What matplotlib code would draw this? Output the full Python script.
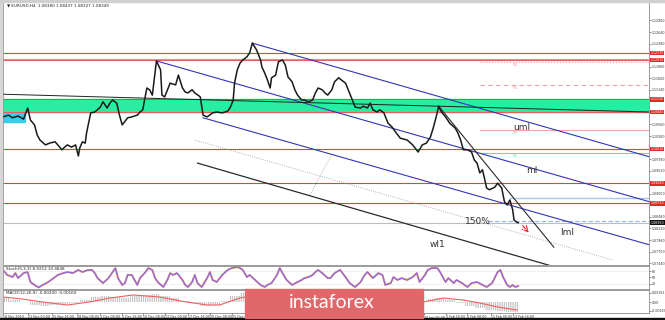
import numpy as np
from matplotlib import pyplot as plt
from matplotlib.patches import Rectangle
from matplotlib.transforms import blended_transform_factory

# EURUSD H4, bar index counted from 18 Nov 2019
price_bars = [0, 4, 7, 11, 15, 18, 20, 23, 25, 27,
              31, 34, 38, 40, 43, 45, 47, 50, 53, 55,
              56, 58, 60, 61, 64, 67, 71, 73, 76, 78,
              80, 83, 85, 87, 91, 94, 98, 100, 102, 105,
              107, 109, 112, 115, 116, 118, 122, 126, 128, 131,
              133, 135, 138, 140, 144, 146, 149, 153, 156, 160,
              164, 166, 168, 169, 171, 173, 175, 178, 180, 182,
              185, 188, 189, 191, 193, 195, 196, 199, 201, 204,
              206, 208, 211, 213, 215, 218, 220, 223, 226, 228,
              230, 233, 235, 237, 240, 242, 245, 247, 250, 252,
              255, 257, 261, 263, 266, 268, 270, 273, 275, 278,
              281, 284, 287, 290, 295, 299, 303, 306, 309, 312,
              314, 316, 318, 320, 323, 326, 330, 332, 334, 336,
              339, 342, 344, 346, 348, 350, 353, 355, 359, 361,
              364, 366, 368, 370, 372, 373, 375, 376]
price_close = [1.1073, 1.1077, 1.1071, 1.1075, 1.1068, 1.1093, 1.1066, 1.1055, 1.1032, 1.1021,
               1.1010, 1.1014, 1.1017, 1.1010, 1.0999, 1.1005, 1.1010, 1.1005, 1.1010, 1.0985,
               1.1003, 1.1017, 1.1014, 1.1037, 1.1082, 1.1084, 1.1095, 1.1107, 1.1093, 1.1104,
               1.1111, 1.1104, 1.1077, 1.1055, 1.1071, 1.1073, 1.1077, 1.1084, 1.1089, 1.1138,
               1.1134, 1.1122, 1.1199, 1.1179, 1.1122, 1.1118, 1.1149, 1.1145, 1.1167, 1.1138,
               1.1129, 1.1127, 1.1134, 1.1127, 1.1118, 1.1077, 1.1073, 1.1082, 1.1084, 1.1082,
               1.1086, 1.1095, 1.1111, 1.1149, 1.1179, 1.1194, 1.1201, 1.1208, 1.1217, 1.1239,
               1.1224, 1.1201, 1.1185, 1.1172, 1.1156, 1.1138, 1.1161, 1.1167, 1.1197, 1.1201,
               1.1190, 1.1163, 1.1152, 1.1134, 1.1122, 1.1111, 1.1111, 1.1107, 1.1111, 1.1127,
               1.1138, 1.1134, 1.1127, 1.1122, 1.1134, 1.1152, 1.1161, 1.1156, 1.1149, 1.1134,
               1.1111, 1.1095, 1.1093, 1.1097, 1.1093, 1.1104, 1.1089, 1.1084, 1.1089, 1.1082,
               1.1059, 1.1050, 1.1037, 1.1025, 1.1021, 1.1010, 1.0994, 1.1010, 1.1014, 1.1028,
               1.1048, 1.1071, 1.1097, 1.1084, 1.1073, 1.1059, 1.1048, 1.1037, 1.1021, 1.0999,
               1.0999, 1.0994, 1.0976, 1.0969, 1.0947, 1.0954, 1.0913, 1.0909, 1.0915, 1.0924,
               1.0913, 1.0882, 1.0875, 1.0886, 1.0864, 1.0841, 1.0836, 1.0835]

stoch_bars = [0, 3, 7, 9, 11, 15, 18, 20, 23, 26,
              29, 33, 37, 40, 44, 47, 51, 55, 58, 62,
              65, 67, 69, 73, 77, 80, 82, 84, 87, 89,
              91, 94, 98, 100, 104, 106, 109, 111, 113, 117,
              120, 122, 124, 127, 131, 133, 135, 138, 140, 142,
              145, 149, 151, 153, 156, 160, 164, 167, 171, 173,
              175, 178, 180, 184, 188, 191, 193, 196, 200, 202,
              204, 207, 211, 215, 218, 220, 223, 226, 228, 230,
              233, 237, 239, 242, 246, 250, 253, 257, 261, 264,
              266, 270, 274, 277, 279, 283, 285, 288, 291, 295,
              299, 302, 304, 308, 310, 313, 317, 319, 323, 325,
              329, 331, 335, 339, 342, 346, 350, 353, 357, 361,
              363, 365, 368, 370, 372, 374, 376]
stoch_k = [86, 62, 52, 71, 47, 71, 76, 28, 14, 2,
           14, 28, 47, 62, 71, 76, 71, 86, 76, 86,
           86, 71, 47, 23, 47, 76, 95, 47, 14, 23,
           62, 62, 14, 47, 76, 95, 86, 47, 28, 4,
           38, 71, 62, 71, 38, 14, 4, 28, 62, 23,
           4, 47, 76, 38, 28, 62, 86, 95, 100, 95,
           86, 52, 62, 38, 14, 4, 14, 23, 62, 95,
           71, 38, 14, 28, 38, 47, 52, 62, 76, 86,
           71, 47, 47, 71, 86, 52, 23, 4, 28, 62,
           76, 47, 71, 62, 14, 23, 52, 38, 47, 38,
           52, 71, 28, 62, 86, 95, 95, 76, 28, 47,
           23, 38, 23, 4, 23, 28, 14, 4, 23, 76,
           86, 52, 14, 4, 14, 4, 9]

macd_bars = [0, 9, 16, 23, 31, 38, 45, 53, 60, 67,
             74, 82, 89, 96, 104, 111, 118, 126, 133, 140,
             147, 155, 162, 169, 177, 184, 191, 199, 206, 213,
             220, 228, 235, 242, 250, 257, 264, 272, 279, 286,
             293, 301, 307, 312, 319, 326, 334, 341, 348, 356,
             363, 370, 376]
macd_main = [0.0008, 0.0004, 0.0, -0.0006, -0.0008, -0.0006, -0.0004, -0.0002, 0.0004, 0.0010,
             0.0012, 0.0010, 0.0008, 0.0012, 0.0014, 0.0016, 0.0012, 0.0008, 0.0002, -0.0002,
             -0.0008, -0.0006, 0.0002, 0.0012, 0.0018, 0.0020, 0.0016, 0.0012, 0.0012, 0.0006,
             0.0002, 0.0004, 0.0006, 0.0008, 0.0006, 0.0, -0.0002, -0.0004, -0.0006, -0.0010,
             -0.0008, -0.0004, 0.0002, 0.0006, 0.0008, 0.0004, -0.0002, -0.0008, -0.0012, -0.0016,
             -0.0018, -0.0020, -0.0020]
signal_bars = [0, 14, 29, 47, 63, 78, 95, 114, 134, 149, 158, 173,
               188, 210, 231, 253, 275, 297, 307, 321, 336, 348, 361, 375]
macd_signal = [0.0010, 0.0006, 0.0, -0.0006, 0.0, 0.0008, 0.0014, 0.0010, 0.0, -0.0006, -0.0006, 0.0008,
               0.0016, 0.0012, 0.0006, 0.0006, -0.0002, -0.0008, 0.0, 0.0008, 0.0004, -0.0002, -0.0010, -0.0016]

# horizontal levels
red_levels = [1.1217, 1.1001, 1.0924, 1.0879]
pink_levels = [1.1201, 1.1084]
zone = (1.1084, 1.1113)
cyan_box = (0, 16, 1.1061, 1.1082)
pivot_start = 348
pivot_levels = {'R2': 1.1197, 'R1': 1.1145, 'PP': 1.1044, 'S1': 1.0992}
blue_level = (370, 1.0891)
fibo_150 = (354, 1.0839)

# drawn lines: (bar0, price0, bar1, price1)
uml = (182, 1.1239, 472, 1.0983)
ml = (112, 1.1199, 472, 1.0882)
lml = (146, 1.1071, 472, 1.0785)
line_150 = (140, 1.1021, 445, 1.0751)
wl1 = (142, 1.0969, 420, 1.0720)
handle = (239, 1.0983, 224, 1.0897)
trend = (318, 1.1097, 402, 1.0780)
long_line = (0, 1.1124, 472, 1.1084)
arrow = (378, 1.0833, 385, 1.0808)

time_bars = [0, 18, 36, 54, 71, 87, 102, 118, 135, 151, 167, 307, 323, 339, 356, 372]
time_labels = ['18 Nov 2019', '21 Nov 00:00', '25 Nov 16:00', '28 Nov 08:00', '3 Dec 00:00',
               '5 Dec 16:00', '10 Dec 08:00', '13 Dec 00:00', '17 Dec 16:00', '20 Dec 08:00',
               '25 Dec 00:00', '30 Jan 00:00', '3 Feb 16:00', '6 Feb 08:00', '11 Feb 00:00',
               '13 Feb 16:00']

W, H = 665, 320
X_MAX = 471.5
LABEL_SIZE = 2.3
plt.rcParams['hatch.linewidth'] = 0.45
fig = plt.figure(figsize=(W / 100, H / 100), dpi=100)


def px_axes(x0, y0, x1, y1):
    ax = fig.add_axes([x0 / W, 1 - y1 / H, (x1 - x0) / W, (y1 - y0) / H])
    ax.set_xlim(0, X_MAX)
    ax.set_xticks([])
    ax.yaxis.tick_right()
    ax.tick_params(axis='y', labelsize=LABEL_SIZE, length=1.2, width=0.4, pad=0.5, colors='#333333')
    for s in ax.spines.values():
        s.set_color('#8a8a8a')
        s.set_linewidth(0.6)
    return ax


def seg(ax, line, **kw):
    ax.plot([line[0], line[2]], [line[1], line[3]], **kw)


def right_box(ax, y, text, color):
    tr = blended_transform_factory(ax.transAxes, ax.transData)
    ax.text(1.0025, y, text, transform=tr, fontsize=LABEL_SIZE, color='white', va='center', ha='left',
            bbox=dict(boxstyle='square,pad=0.12', fc=color, ec='none'), zorder=6)


# ---- main price panel
ax = px_axes(3, 2, 649, 265)
ax.set_ylim(1.07398, 1.13315)
last = price_close[-1]
boxed = red_levels + pink_levels + [zone[1], last]
ticks = [t for t in 1.0744 + 0.0026 * np.arange(22) if min(abs(t - b) for b in boxed) > 0.0011]
ax.set_yticks(ticks)
ax.set_yticklabels(['%.5f' % t for t in ticks])

ax.axhspan(zone[0], zone[1], color='#22F0A2', zorder=1)
ax.add_patch(Rectangle((cyan_box[0], cyan_box[2]), cyan_box[1] - cyan_box[0], cyan_box[3] - cyan_box[2],
                       color='#36CFEA', zorder=1))
for lv in red_levels:
    ax.axhline(lv, color='#EE3B3B', lw=0.8, zorder=2)
    right_box(ax, lv, '%.5f' % lv, '#E52626')
for lv in pink_levels:
    ax.axhline(lv, color='#F08A8A', lw=1.5, zorder=2)
    ax.axhline(lv, color='#E84848', lw=0.5, zorder=2)
    right_box(ax, lv, '%.5f' % lv, '#E52626')
ax.axhline(zone[1], color='#E84848', lw=0.7, zorder=2)
right_box(ax, zone[1], '%.5f' % zone[1], '#E52626')

piv_style = {'R2': ('#F2A0A0', ':'), 'R1': ('#F2A0A0', (0, (4, 3))), 'PP': ('#F4A6A6', '-'),
             'S1': ('#7FD6A0', '-')}
for name, lv in pivot_levels.items():
    c, ls = piv_style[name]
    ax.plot([pivot_start, X_MAX], [lv, lv], color=c, ls=ls, lw=0.8, zorder=2)
    ax.text(374, lv - 0.0002, name, fontsize=3, color=c, ha='center', va='top', zorder=3)

ax.plot([blue_level[0], X_MAX], [blue_level[1]] * 2, color='#A8C8F0', lw=1.0, zorder=2)
ax.plot([fibo_150[0], X_MAX], [fibo_150[1]] * 2, color='#8FB6F2', lw=0.8, ls=(0, (4, 2)), zorder=2)
ax.text(346.5, fibo_150[1] - 0.0001, '150%', fontsize=6.5, color='#333333', ha='center', va='center', zorder=5)

blue = '#3535B5'
seg(ax, uml, color=blue, lw=0.8, zorder=3)
seg(ax, ml, color=blue, lw=0.8, zorder=3)
seg(ax, lml, color=blue, lw=0.8, zorder=3)
seg(ax, line_150, color='#9a9a9a', lw=0.6, ls=':', zorder=3)
seg(ax, handle, color='#9a9a9a', lw=0.6, ls=':', zorder=3)
seg(ax, wl1, color='#2a2a2a', lw=0.9, zorder=3)
seg(ax, trend, color='#2a2a2a', lw=0.8, zorder=3)
seg(ax, long_line, color='#222222', lw=0.7, zorder=3)

ax.plot(price_bars, price_close, color='#1a1a1a', lw=1.1, zorder=4)
ax.axhline(last, color='#B8BEC6', lw=0.8, zorder=2)
right_box(ax, last, '%.5f' % last, '#111111')

ax.annotate('', xy=(arrow[2], arrow[3]), xytext=(arrow[0], arrow[1]),
            arrowprops=dict(arrowstyle='->', color='#E82020', lw=0.8, ls='--'), zorder=5)

ax.text(379, 1.1050, 'uml', fontsize=6.5, color='#333333', ha='center', va='center', zorder=5)
ax.text(386, 1.0953, 'ml', fontsize=6.5, color='#333333', ha='center', va='center', zorder=5)
ax.text(412, 1.0814, 'lml', fontsize=6.5, color='#333333', ha='center', va='center', zorder=5)
ax.text(317, 1.0785, 'wl1', fontsize=6.5, color='#333333', ha='center', va='center', zorder=5)
ax.text(0.006, 0.993, '\u25bc EURUSD,H4  1.08380 1.08437 1.08327 1.08349', transform=ax.transAxes,
        fontsize=3, color='#222222', va='top', ha='left')

# ---- stochastic panel
ax2 = px_axes(3, 266, 649, 289)
ax2.set_ylim(-5.4, 105)
ax2.set_yticks([80, 50, 20])
ax2.set_yticklabels(['80', '50', '20'])
for lv in (80, 20):
    ax2.axhline(lv, color='#c8c8c8', lw=0.5, ls=':')
ax2.plot(stoch_bars, stoch_k, color='#F07878', lw=1.4)
ax2.plot(stoch_bars, stoch_k, color='#7272F2', lw=0.7)
ax2.text(0.004, 0.95, 'Stoch(5,3,3) 8.9212 10.4848', transform=ax2.transAxes,
         fontsize=3, color='#222222', va='top', ha='left')

# ---- MACD panel
ax3 = px_axes(3, 290, 649, 313)
ax3.set_ylim(-0.0022, 0.0024)
ax3.set_yticks([0.0018, 0.0, -0.0018])
ax3.set_yticklabels(['0.00181', '0.00', '-0.00183'])
ax3.fill_between(macd_bars, 0, macd_main, step='mid', facecolor='none', edgecolor='#a0a0a0',
                 hatch='|||||||||', linewidth=0)
ax3.plot(signal_bars, macd_signal, color='#F06060', lw=0.8)
ax3.text(0.004, 0.95, 'MACD(12,26,9) -0.00200 -0.00160', transform=ax3.transAxes,
         fontsize=3, color='#222222', va='top', ha='left')
ax3.set_xticks(time_bars)
ax3.set_xticklabels(time_labels)
ax3.tick_params(axis='x', labelsize=LABEL_SIZE, length=1.2, width=0.4, pad=0.6, colors='#333333')
for lbl in ax3.get_xticklabels():
    lbl.set_ha('left')

# ---- frame and watermark
fig.add_artist(Rectangle((0, 0), 2 / W, 1, transform=fig.transFigure, color='#d6d6d6', zorder=8))
fig.add_artist(Rectangle((0, 1 - 1.5 / H), 1, 1.5 / H, transform=fig.transFigure, color='#d0d0d0', zorder=8))
fig.add_artist(Rectangle((0, 0), 1, 2 / H, transform=fig.transFigure, color='#111111', zorder=8))
fig.add_artist(Rectangle((245 / W, 1 - 318 / H), 178 / W, 29 / H, transform=fig.transFigure,
                         color='#E0686B', zorder=9))
fig.text(332 / W, 1 - 303 / H, 'instaforex', fontsize=14, family='Lato', color='white',
         ha='center', va='center', zorder=10)

fig.savefig('out.png', dpi=100)
